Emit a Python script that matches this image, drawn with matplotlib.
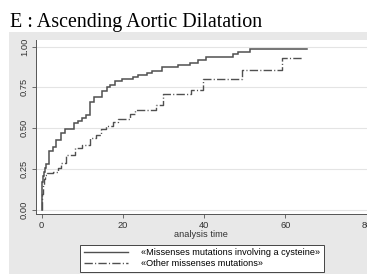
import matplotlib
matplotlib.use("Agg")
import matplotlib.pyplot as plt
from matplotlib.lines import Line2D

# ---- data (cumulative incidence step functions) ----
cys_time = [0, 0.05, 0.15, 0.3, 0.5, 0.9, 1.1, 1.9, 2.7, 3.6, 4.8, 5.8, 7.9, 9.0, 10.0,
            11.0, 11.8, 12.8, 14.8, 16.0, 16.8, 18.0, 19.7, 22.6, 23.8, 25.9, 27.1,
            29.7, 33.6, 36.5, 38.4, 40.4, 47.2, 48.4, 51.3, 65.3]
cys_value = [0.0, 0.12, 0.17, 0.21, 0.235, 0.255, 0.28, 0.36, 0.385, 0.43, 0.47, 0.495,
             0.535, 0.545, 0.56, 0.58, 0.66, 0.69, 0.73, 0.755, 0.765, 0.786, 0.80,
             0.812, 0.827, 0.841, 0.853, 0.877, 0.888, 0.902, 0.918, 0.937, 0.955,
             0.965, 0.984, 0.984]

oth_time = [0, 0.1, 0.3, 0.5, 0.7, 1.2, 2.9, 3.9, 4.8, 5.9, 8.2, 9.9, 11.8, 13.4, 14.7,
            15.9, 17.5, 18.9, 21.7, 23.0, 28.1, 29.8, 36.8, 39.6, 49.3, 59.1, 64.0]
oth_value = [0.0, 0.10, 0.15, 0.19, 0.215, 0.225, 0.235, 0.255, 0.29, 0.335, 0.378, 0.40,
             0.44, 0.46, 0.494, 0.514, 0.54, 0.557, 0.588, 0.612, 0.645, 0.71, 0.733,
             0.80, 0.855, 0.927, 0.927]

x_ticks = [0, 20, 40, 60, 80]
y_ticks = [0.0, 0.25, 0.5, 0.75, 1.0]
y_tick_labels = ["0.00", "0.25", "0.50", "0.75", "1.00"]
labels = ["«Missenses mutations involving a cysteine»", "«Other missenses mutations»"]
title = "E : Ascending Aortic Dilatation"

W, H = 367, 276
fig = plt.figure(figsize=(W / 100, H / 100), dpi=100)
fig.patch.set_facecolor("white")

gray = "#e8e8e8"
line_col = "#505050"
sans = "Liberation Sans"

# gray panel
bg = fig.add_axes([9 / W, 2 / H, 358 / W, 242 / H], zorder=-10)
bg.set_facecolor(gray)
bg.set_xticks([])
bg.set_yticks([])
for s in bg.spines.values():
    s.set_visible(False)

ax = fig.add_axes([35.7 / W, (H - 214) / H, (W - 35.7) / W, (214 - 40) / H], zorder=1)
ax.set_facecolor("white")
ax.set_xlim(-1.48, 80.1)
ax.set_ylim(-0.025, 1.04)

ax.step(cys_time, cys_value, where="post", color=line_col, lw=1.1, solid_joinstyle="miter")
ax.step(oth_time, oth_value, where="post", color=line_col, lw=1.0, dashes=(6, 1.6, 0.8, 1.6))

ax.set_xticks(x_ticks)
ax.set_yticks(y_ticks)
ax.set_yticklabels(y_tick_labels, rotation=90, va="center")
for lab in ax.get_xticklabels() + ax.get_yticklabels():
    lab.set_fontfamily(sans)
    lab.set_fontsize(6.7)
    lab.set_color("#333333")
ax.tick_params(axis="both", length=3, width=0.6, color="#555555", pad=2)
ax.grid(axis="y", color="#e4e4e4", lw=0.8)
ax.set_axisbelow(True)
for s in ["top", "right"]:
    ax.spines[s].set_visible(False)
for s in ["left", "bottom"]:
    ax.spines[s].set_color("#555555")
    ax.spines[s].set_linewidth(0.7)

ax.set_xlabel("analysis time", fontfamily=sans, fontsize=6.7, color="#333333", labelpad=0)

fig.text(10 / W, (H - 27.3) / H, title, fontfamily="Liberation Serif", fontsize=14.4,
         va="baseline", ha="left", color="black")

handles = [Line2D([], [], color=line_col, lw=1.0),
           Line2D([], [], color=line_col, lw=1.0, dashes=(6, 1.6, 0.8, 1.6))]
leg = fig.legend(handles, labels, loc="upper center", bbox_to_anchor=(202 / W, (H - 245) / H),
                 frameon=True, fancybox=False, edgecolor="#444444", facecolor="white",
                 framealpha=1, prop={"family": sans, "size": 6.6}, handlelength=4.8,
                 handletextpad=1.5, borderpad=0.35, labelspacing=0.25, borderaxespad=0)
leg.get_frame().set_linewidth(0.7)

fig.savefig("out.png", dpi=100, facecolor="white")
